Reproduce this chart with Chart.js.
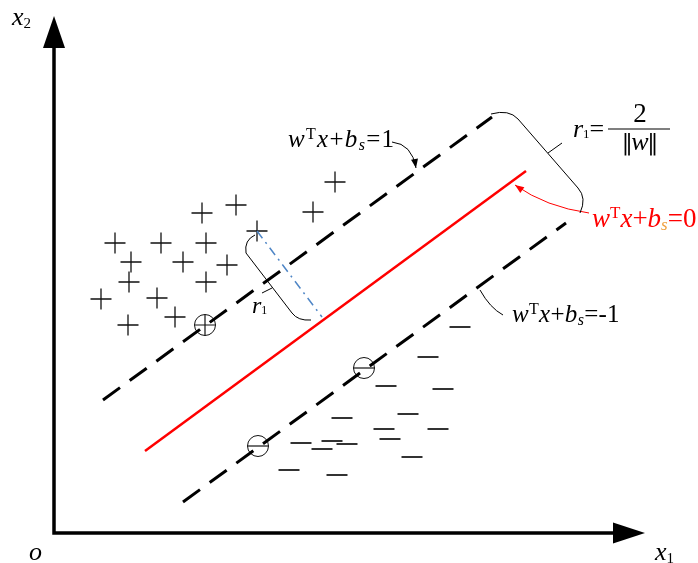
<!DOCTYPE html>
<html>
<head>
<meta charset="utf-8">
<script src="https://cdn.jsdelivr.net/npm/chart.js@4"></script>
<style>
  html, body { margin: 0; padding: 0; background: #fff; }
  canvas { display: block; }
</style>
</head>
<body>
<canvas id="svmChart" width="698" height="563"></canvas>
<script>
// Feature space: x1 horizontal, x2 vertical, origin at the axis corner
const positiveClass = [
    [281, 351], [259, 321], [148, 320], [182, 328], [203, 302],
    [61, 290], [107, 290], [152, 290], [77, 271], [129, 271],
    [173, 268], [75, 251], [152, 251], [47, 234], [103, 235],
    [74, 208], [121, 216]
];
const negativeClass = [
    [374, 176], [332, 147], [389, 144], [288, 115], [354, 119],
    [330, 104], [384, 104], [336, 94], [247, 90], [278, 92],
    [293, 89], [268, 84], [358, 76], [235, 63], [283, 58],
    [406, 206]
];
const positiveSupport = [[151, 208]];
const negativeSupport = [[310, 165], [204, 87]];

// hyperplanes w^T x + b = 1, 0, -1 (end points)
const marginPlus = [[49, 133], [438, 416]];
const hyperplane = [[91, 82], [472, 362]];
const marginMinus = [[129, 31], [512, 310]];
const distanceLine = [[203, 302], [268, 216]];
const axisLines = [[0, 490], [0, 0], [562, 0]];

const pts = arr => arr.map(p => ({ x: p[0], y: p[1] }));
const SERIF = '"Liberation Serif", "DejaVu Serif", serif';

function lineSet(data, color, width, dash) {
    return {
        data: pts(data),
        showLine: true,
        borderColor: color,
        borderWidth: width,
        borderDash: dash || [],
        borderCapStyle: 'butt',
        borderJoinStyle: 'miter',
        pointRadius: 0,
        fill: false
    };
}

function markerSet(data, style, color, width, radius) {
    return {
        data: pts(data),
        showLine: false,
        pointStyle: style,
        pointRadius: radius,
        pointBorderColor: color,
        pointBackgroundColor: 'rgba(0,0,0,0)',
        pointBorderWidth: width
    };
}

function setFont(ctx, style, size) {
    ctx.font = style + ' ' + Math.round(size) + 'px ' + SERIF;
}

// w^T x + b_s = rhs, laid out piece by piece
function drawEq(ctx, x, y, size, color, sColor, rhs, gap) {
    let cx = x;
    const put = (t, style, sz, dy, col) => {
        setFont(ctx, style, sz);
        ctx.fillStyle = col || color;
        ctx.fillText(t, cx, y + dy);
        cx += ctx.measureText(t).width + gap;
    };
    put('w', 'italic', size, 0);
    put('T', 'normal', size * 0.62, -size * 0.34);
    put('x', 'italic', size, 0);
    put('+', 'normal', size, 0);
    put('b', 'italic', size, 0);
    put('s', 'italic', size * 0.62, size * 0.12, sColor);
    put('=', 'normal', size, 0);
    put(rhs, 'normal', size, 0);
}

// arrows, braces and labels drawn over the marks
const annotations = {
    id: 'annotations',
    afterDatasetsDraw(chart) {
        const ctx = chart.ctx;
        const xs = chart.scales.x, ys = chart.scales.y;
        const P = (x, y) => [xs.getPixelForValue(x), ys.getPixelForValue(y)];

        ctx.save();
        ctx.textBaseline = 'alphabetic';

        // axis arrow heads
        ctx.fillStyle = '#000';
        const tri = (a, b, c) => {
            ctx.beginPath();
            ctx.moveTo(...P(...a));
            ctx.lineTo(...P(...b));
            ctx.lineTo(...P(...c));
            ctx.closePath();
            ctx.fill();
        };
        tri([0, 517], [-11, 485], [11, 485]);
        tri([591, 0], [559, 10.5], [559, -10.5]);

        // curved pointer with optional head
        const curve = (s, c, e, color, head) => {
            ctx.strokeStyle = color;
            ctx.fillStyle = color;
            ctx.lineWidth = 1;
            const [sx, sy] = P(...s), [qx, qy] = P(...c), [ex, ey] = P(...e);
            ctx.beginPath();
            ctx.moveTo(sx, sy);
            ctx.quadraticCurveTo(qx, qy, ex, ey);
            ctx.stroke();
            if (head) {
                const ang = Math.atan2(ey - qy, ex - qx);
                const L = 9, W = 3.5;
                ctx.beginPath();
                ctx.moveTo(ex, ey);
                ctx.lineTo(ex - L * Math.cos(ang) + W * Math.sin(ang), ey - L * Math.sin(ang) - W * Math.cos(ang));
                ctx.lineTo(ex - L * Math.cos(ang) - W * Math.sin(ang), ey - L * Math.sin(ang) + W * Math.cos(ang));
                ctx.closePath();
                ctx.fill();
            }
        };
        curve([338, 391], [358, 389], [362, 365], '#000', true);
        curve([535, 320], [492, 326], [461, 348], '#f00', true);
        curve([449, 218], [436, 225], [426, 243], '#000', false);

        // braces marking the margin
        ctx.strokeStyle = '#000';
        ctx.lineWidth = 1;
        const brace = (m, q1, a, b, q2, e, t1, t2) => {
            ctx.beginPath();
            ctx.moveTo(...P(...m));
            ctx.quadraticCurveTo(...P(...q1), ...P(...a));
            ctx.lineTo(...P(...b));
            ctx.quadraticCurveTo(...P(...q2), ...P(...e));
            ctx.moveTo(...P(...t1));
            ctx.lineTo(...P(...t2));
            ctx.stroke();
        };
        brace([437, 419], [455, 424], [464, 414], [524, 345], [533, 335], [526, 320], [494, 380], [508, 390]);
        brace([201, 298], [190, 293], [192, 280], [238, 220], [244, 212], [257, 213], [218, 245], [208, 240]);

        // equations
        drawEq(ctx, ...P(234, 386), 25, '#000', '#000', '1', 1.3);
        drawEq(ctx, ...P(538, 306), 27, '#f00', '#f0a040', '0', 0);
        drawEq(ctx, ...P(458, 211), 25, '#000', '#000', '-1', 0.3);

        // r1 = 2 / ||w||
        ctx.fillStyle = '#000';
        let [rx, ry] = P(519, 396);
        setFont(ctx, 'italic', 26);
        ctx.fillText('r', rx, ry);
        rx += ctx.measureText('r').width;
        setFont(ctx, 'normal', 13);
        ctx.fillText('1', rx, ry + 1);
        rx += ctx.measureText('1').width;
        setFont(ctx, 'normal', 26);
        ctx.fillText('=', rx, ry);
        const [b0x, by] = P(554, 404), [b1x] = P(616, 404);
        ctx.lineWidth = 1.2;
        ctx.beginPath();
        ctx.moveTo(b0x, by);
        ctx.lineTo(b1x, by);
        ctx.stroke();
        ctx.textAlign = 'center';
        const [fx, ny] = P(586, 411);
        setFont(ctx, 'normal', 27);
        ctx.fillText('2', fx, ny);
        const [, dy] = P(586, 383);
        setFont(ctx, 'italic', 26);
        const ww = ctx.measureText('w').width;
        ctx.fillText('w', fx, dy);
        ctx.font = 'normal 22px "DejaVu Serif", serif';
        ctx.fillText('\u2016', fx - ww / 2 - 4, dy);
        ctx.fillText('\u2016', fx + ww / 2 + 4, dy);
        ctx.textAlign = 'left';

        // r1 beside the left brace
        const [lx, ly] = P(198, 220);
        setFont(ctx, 'italic', 24);
        ctx.fillText('r', lx, ly);
        const rw = ctx.measureText('r').width;
        setFont(ctx, 'normal', 12);
        ctx.fillText('1', lx + rw, ly + 1);

        // axis labels
        const sub = (name, idx, pos) => {
            const [tx, ty] = P(...pos);
            setFont(ctx, 'italic', 26);
            ctx.fillText(name, tx, ty);
            if (idx) {
                const w = ctx.measureText(name).width;
                setFont(ctx, 'normal', 15);
                ctx.fillText(idx, tx + w, ty + 3);
            }
        };
        sub('x', '2', [-42, 508]);
        sub('x', '1', [601, -27]);
        sub('o', '', [-25, -27]);

        ctx.restore();
    }
};

new Chart(document.getElementById('svmChart'), {
    type: 'scatter',
    data: {
        datasets: [
            lineSet(axisLines, '#000', 3.5),
            lineSet(marginPlus, '#000', 3, [21, 12]),
            lineSet(marginMinus, '#000', 3, [21, 12]),
            lineSet(hyperplane, '#f00', 2.5),
            lineSet(distanceLine, '#4f86c6', 1.5, [9, 5, 2, 5]),
            markerSet(positiveClass, 'cross', '#111', 1.3, 10.5),
            markerSet(negativeClass, 'line', '#333', 2, 10.5),
            markerSet(positiveSupport, 'circle', '#111', 1, 10.5),
            markerSet(positiveSupport, 'cross', '#111', 1.2, 10.5),
            markerSet(negativeSupport, 'circle', '#111', 1, 10.5),
            markerSet(negativeSupport, 'line', '#111', 1.2, 10.5)
        ]
    },
    options: {
        responsive: false,
        animation: false,
        devicePixelRatio: 1,
        layout: { padding: 0, autoPadding: false },
        scales: {
            x: { type: 'linear', min: -54, max: 644, display: false },
            y: { type: 'linear', min: -30, max: 533, display: false }
        },
        plugins: {
            legend: { display: false },
            tooltip: { enabled: false }
        }
    },
    plugins: [annotations]
});
</script>
</body>
</html>
